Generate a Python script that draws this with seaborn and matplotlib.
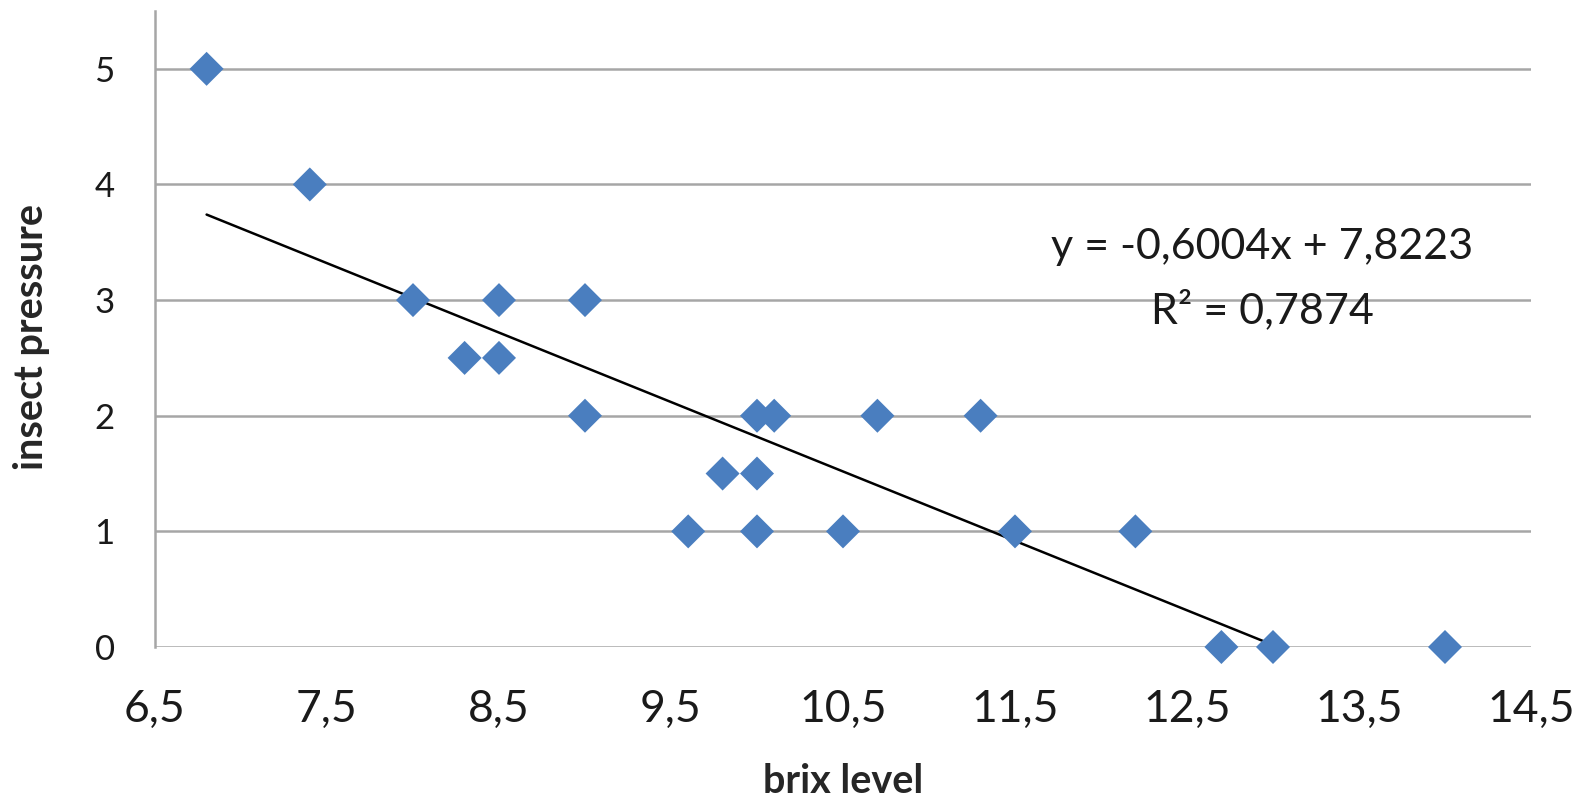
import matplotlib
matplotlib.use("Agg")
import matplotlib.pyplot as plt
import seaborn as sns
import pandas as pd
import numpy as np

# Data
brix_level = [6.8, 7.4, 8.0, 8.3, 8.5, 8.5, 9.0, 9.0, 9.6, 9.8, 10.0, 10.0, 10.0,
              10.1, 10.5, 10.7, 11.3, 11.5, 12.2, 12.7, 13.0, 14.0]
insect_pressure = [5, 4, 3, 2.5, 3, 2.5, 3, 2, 1, 1.5, 2, 1.5, 1,
                   2, 1, 2, 2, 1, 1, 0, 0, 0]
trend_slope = -0.6004
trend_intercept = 7.8223
trend_x = [6.8, 13.0]
x_ticks = [6.5, 7.5, 8.5, 9.5, 10.5, 11.5, 12.5, 13.5, 14.5]
x_tick_labels = ["6,5", "7,5", "8,5", "9,5", "10,5", "11,5", "12,5", "13,5", "14,5"]
y_ticks = [0, 1, 2, 3, 4, 5]
y_tick_labels = ["0", "1", "2", "3", "4", "5"]
equation_text = "y = -0,6004x + 7,8223"
r2_text = "R² = 0,7874"
x_title = "brix level"
y_title = "insect pressure"

sns.set_theme(style="white")
plt.rcParams["font.family"] = ["Lato", "DejaVu Sans"]

df = pd.DataFrame({"brix": brix_level, "pressure": insect_pressure})
trend_df = pd.DataFrame({"x": trend_x,
                         "y": [trend_slope * v + trend_intercept for v in trend_x]})

fig = plt.figure(figsize=(15.92, 7.98), dpi=100)
ax = fig.add_axes([155 / 1592, 1 - 647 / 798, 1376 / 1592, 636 / 798])

grid_color = "#a6a6a6"
for yv in y_ticks:
    ax.axhline(yv, color=grid_color, lw=1.8, zorder=1)

sns.lineplot(data=trend_df, x="x", y="y", ax=ax, color="black", lw=1.8, zorder=3)
sns.scatterplot(data=df, x="brix", y="pressure", ax=ax, marker="D", s=300,
                color="#4a7ebf", edgecolor="none", linewidth=0, zorder=4, clip_on=False)

ax.set_xlim(6.5, 14.5)
ax.set_ylim(0, 5.5)
ax.set_xticks(x_ticks)
ax.set_xticklabels(x_tick_labels, fontsize=32, color="#1a1a1a")
ax.set_yticks(y_ticks)
ax.set_yticklabels(y_tick_labels, fontsize=25, color="#1a1a1a")
ax.tick_params(axis="x", length=0, pad=30)
ax.tick_params(axis="y", length=0, pad=29)

for side in ["top", "right", "bottom"]:
    ax.spines[side].set_visible(False)
ax.spines["left"].set_color(grid_color)
ax.spines["left"].set_linewidth(1.8)

ax.set_xlabel(x_title, fontsize=28.5, fontweight="bold", va="baseline")
ax.xaxis.set_label_coords(0.5, (647 - 793) / 636)
ax.set_ylabel(y_title, fontsize=28.5, fontweight="bold", va="center")
ax.yaxis.set_label_coords((32 - 155) / 1376, 0.488)

ax.text(12.936, 3.353, equation_text, fontsize=31, ha="center", va="baseline", color="#1a1a1a")
ax.text(12.936, 2.80, r2_text, fontsize=31, ha="center", va="baseline", color="#1a1a1a")

fig.savefig("out.png", dpi=100, facecolor="white")
